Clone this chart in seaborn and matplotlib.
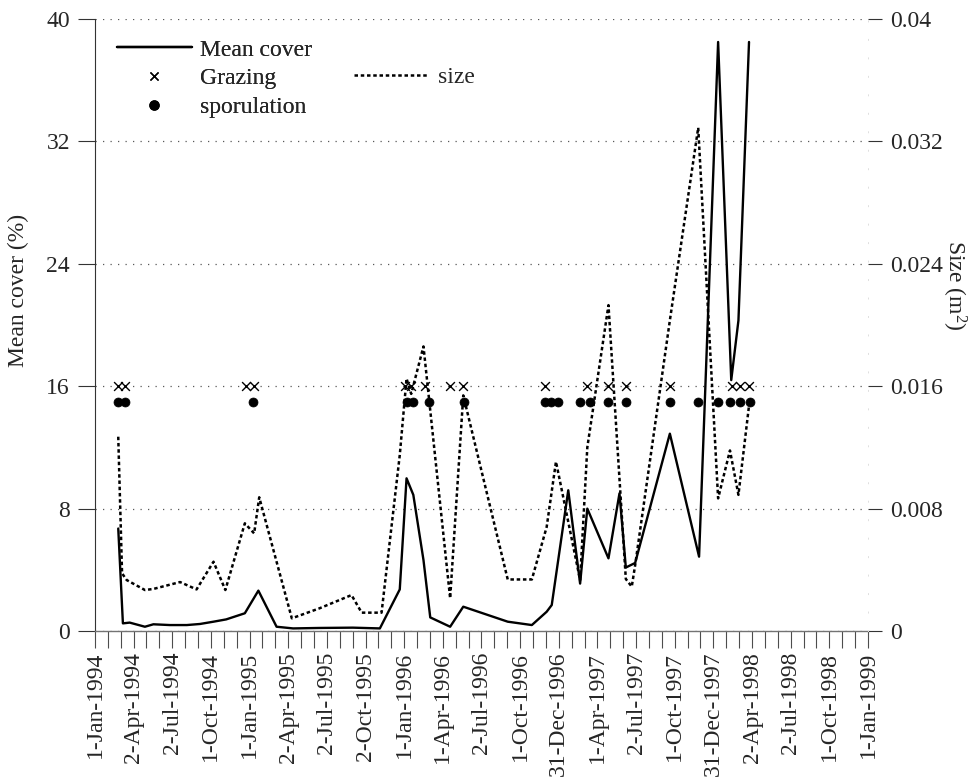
import numpy as np
import pandas as pd
import matplotlib
matplotlib.use("Agg")
import matplotlib.pyplot as plt
import matplotlib.dates as mdates
from matplotlib.lines import Line2D
import seaborn as sns

# ---- data -------------------------------------------------------------
cover_dates = [
    "1994-02-25", "1994-03-08", "1994-03-24", "1994-04-29", "1994-05-19",
    "1994-06-27", "1994-08-06", "1994-09-06", "1994-10-08", "1994-11-07",
    "1994-12-21", "1995-01-22", "1995-03-06", "1995-04-14", "1995-06-15",
    "1995-09-02", "1995-11-05", "1995-12-22", "1996-01-07", "1996-01-23",
    "1996-02-16", "1996-03-03", "1996-04-19", "1996-05-20", "1996-09-02",
    "1996-10-29", "1996-12-03", "1996-12-15", "1997-01-23", "1997-02-20",
    "1997-03-09", "1997-04-28", "1997-05-24", "1997-06-08", "1997-06-30",
    "1997-09-20", "1997-11-28", "1998-01-12", "1998-02-12", "1998-03-01",
    "1998-03-26",
]
mean_cover = [
    6.7, 0.5, 0.55, 0.28, 0.44,
    0.39, 0.39, 0.46, 0.61, 0.76,
    1.16, 2.64, 0.28, 0.17, 0.2,
    0.22, 0.17, 2.72, 9.98, 8.9,
    4.64, 0.89, 0.28, 1.59, 0.61,
    0.39, 1.26, 1.7, 9.2, 3.1,
    8.0, 4.75, 9.0, 4.15, 4.45,
    12.9, 4.86, 38.5, 16.4, 20.3,
    38.5,
]

size_dates = [
    "1994-02-25", "1994-03-06", "1994-03-17", "1994-04-29", "1994-05-19",
    "1994-07-21", "1994-08-29", "1994-10-08", "1994-11-05", "1994-12-21",
    "1995-01-12", "1995-01-24", "1995-04-11", "1995-06-15", "1995-08-30",
    "1995-09-23", "1995-11-09", "1995-12-22", "1996-01-07", "1996-01-18",
    "1996-02-16", "1996-04-19", "1996-05-20", "1996-09-02", "1996-10-29",
    "1996-12-03", "1996-12-25", "1997-02-20", "1997-03-09", "1997-04-28",
    "1997-06-08", "1997-06-22", "1997-06-30", "1997-09-20", "1997-11-26",
    "1998-01-12", "1998-02-09", "1998-03-01", "1998-03-28",
]
size_m2 = [
    0.0127, 0.00377, 0.00333, 0.00268, 0.00275,
    0.0032, 0.00272, 0.00453, 0.00268, 0.00704,
    0.00638, 0.00874, 0.00083, 0.00148, 0.00235,
    0.0012, 0.0012, 0.0115, 0.0165, 0.0155,
    0.0186, 0.00214, 0.0154, 0.00337, 0.00337,
    0.0068, 0.01107, 0.00333, 0.012, 0.0213,
    0.0034, 0.0029, 0.0043, 0.0203, 0.0329,
    0.00867, 0.0118, 0.0089, 0.0152,
]

grazing_dates = [
    "1994-02-24", "1994-03-13", "1994-12-24", "1995-01-12", "1996-01-03",
    "1996-01-18", "1996-02-20", "1996-04-19", "1996-05-20", "1996-11-29",
    "1997-03-09", "1997-04-28", "1997-06-08", "1997-09-20", "1998-02-13",
    "1998-03-05", "1998-03-26",
]
sporulation_dates = [
    "1994-02-24", "1994-03-13", "1995-01-10", "1996-01-08", "1996-01-23",
    "1996-03-01", "1996-05-22", "1996-11-29", "1996-12-13", "1996-12-30",
    "1997-02-20", "1997-03-15", "1997-04-28", "1997-06-08", "1997-09-20",
    "1997-11-26", "1998-01-12", "1998-02-09", "1998-03-05", "1998-03-28",
]
grazing_level = 16
sporulation_level = 15

tick_labels = [
    "1-Jan-1994", "2-Apr-1994", "2-Jul-1994", "1-Oct-1994", "1-Jan-1995",
    "2-Apr-1995", "2-Jul-1995", "2-Oct-1995", "1-Jan-1996", "1-Apr-1996",
    "2-Jul-1996", "1-Oct-1996", "31-Dec-1996", "1-Apr-1997", "2-Jul-1997",
    "1-Oct-1997", "31-Dec-1997", "2-Apr-1998", "2-Jul-1998", "1-Oct-1998",
    "1-Jan-1999",
]
cover_ticks = [0, 8, 16, 24, 32, 40]
size_ticks = [0, 0.008, 0.016, 0.024, 0.032, 0.04]
size_tick_labels = ["0", "0.008", "0.016", "0.024", "0.032", "0.04"]

# ---- frames -----------------------------------------------------------
cover_df = pd.DataFrame({"date": pd.to_datetime(cover_dates), "cover": mean_cover})
size_df = pd.DataFrame({"date": pd.to_datetime(size_dates), "size": size_m2})
graze_df = pd.DataFrame({"date": pd.to_datetime(grazing_dates),
                         "y": [grazing_level] * len(grazing_dates)})
spor_df = pd.DataFrame({"date": pd.to_datetime(sporulation_dates),
                        "y": [sporulation_level] * len(sporulation_dates)})

# ---- style ------------------------------------------------------------
sns.set_style("white")
plt.rcParams["font.family"] = ["Liberation Serif", "DejaVu Serif"]
plt.rcParams["mathtext.fontset"] = "custom"
plt.rcParams["mathtext.rm"] = "Liberation Serif"
plt.rcParams["mathtext.it"] = "Liberation Serif:italic"
FS = 17

fig = plt.figure(figsize=(9.79, 7.83), dpi=100)
ax = fig.add_axes([0.0970, 0.1941, 0.7896, 0.7816])
ax2 = ax.twinx()

sns.lineplot(data=cover_df, x="date", y="cover", ax=ax, color="black",
             linewidth=1.7, estimator=None, sort=True, legend=False)
sns.scatterplot(data=graze_df, x="date", y="y", ax=ax, marker="x", s=40,
                color="black", linewidth=1.0, legend=False, zorder=4)
sns.scatterplot(data=spor_df, x="date", y="y", ax=ax, marker="o", s=42,
                color="black", edgecolor="black", linewidth=0.5,
                legend=False, zorder=4)
sns.lineplot(data=size_df, x="date", y="size", ax=ax2, color="black",
             linewidth=1.8, linestyle=(0, (1.4, 1.1)), estimator=None,
             sort=True, legend=False)

# ---- axes -------------------------------------------------------------
x0 = mdates.date2num(pd.Timestamp("1994-01-01"))
x1 = mdates.date2num(pd.Timestamp("1999-01-01"))
ax.set_xlim(x0, x1)
ax.set_xticks(np.linspace(x0, x1, 21))
ax.set_xticks(np.linspace(x0, x1, 61), minor=True)
ax.set_xticklabels(tick_labels, rotation=90, fontsize=FS)

ax.set_ylim(0, 40)
ax.set_yticks(cover_ticks)
ax.set_yticklabels([str(t) for t in cover_ticks], fontsize=FS)
ax2.set_ylim(0, 0.04)
ax2.set_yticks(size_ticks)
ax2.set_yticklabels(size_tick_labels, fontsize=FS)

ax.tick_params(axis="x", which="both", direction="out", length=12,
               width=0.8, color="0.3", bottom=True, pad=3)
ax.tick_params(axis="y", direction="out", length=12, width=0.8,
               color="0.2", left=True, pad=6)
ax2.tick_params(axis="y", direction="out", length=10, width=0.8,
                color="0.2", right=True, pad=6)

ax.set_xlabel("")
ax.set_ylabel("Mean cover (%)", fontsize=FS, va="center")
ax.yaxis.set_label_coords(-0.099, 0.557)
ax2.set_ylabel("Size (m$^{2}$)", fontsize=FS, rotation=270, va="center")
ax2.yaxis.set_label_coords(1.112, 0.565)

ax.yaxis.grid(True, linestyle=(0, (1, 5)), color="0.35", linewidth=0.9)
ax.set_axisbelow(True)

for a in (ax, ax2):
    for side in ("top", "left", "right", "bottom"):
        a.spines[side].set_visible(False)
ax.spines["left"].set_visible(True)
ax.spines["left"].set_color("0.2")
ax.spines["left"].set_linewidth(0.8)
ax.spines["bottom"].set_visible(True)
ax.spines["bottom"].set_color("0.45")
ax.spines["bottom"].set_linewidth(1.0)
ax2.spines["right"].set_visible(True)
ax2.spines["right"].set_color("0.87")
ax2.spines["right"].set_linestyle((0, (1, 18)))
ax2.spines["right"].set_linewidth(0.7)

# ---- legends ----------------------------------------------------------
h_cover = Line2D([], [], color="black", linewidth=1.7)
h_graze = Line2D([], [], color="black", marker="x", linestyle="none",
                 markersize=6, markeredgewidth=1.0)
h_spor = Line2D([], [], color="black", marker="o", linestyle="none",
                markersize=6.5)
leg1 = ax.legend([h_cover, h_graze, h_spor],
                 ["Mean cover", "Grazing", "sporulation"],
                 loc="upper left", bbox_to_anchor=(0.028, 0.967),
                 frameon=False, fontsize=FS, handlelength=3.2,
                 handletextpad=0.35, labelspacing=0.30, borderpad=0,
                 borderaxespad=0)
ax.add_artist(leg1)
h_size = Line2D([], [], color="black", linewidth=1.8,
                linestyle=(0, (1.4, 1.1)))
ax2.legend([h_size], ["size"], loc="center left",
           bbox_to_anchor=(0.335, 0.905), frameon=False, fontsize=FS,
           handlelength=3.2, handletextpad=0.35, borderpad=0,
           borderaxespad=0)

fig.savefig("out.png", dpi=100)
